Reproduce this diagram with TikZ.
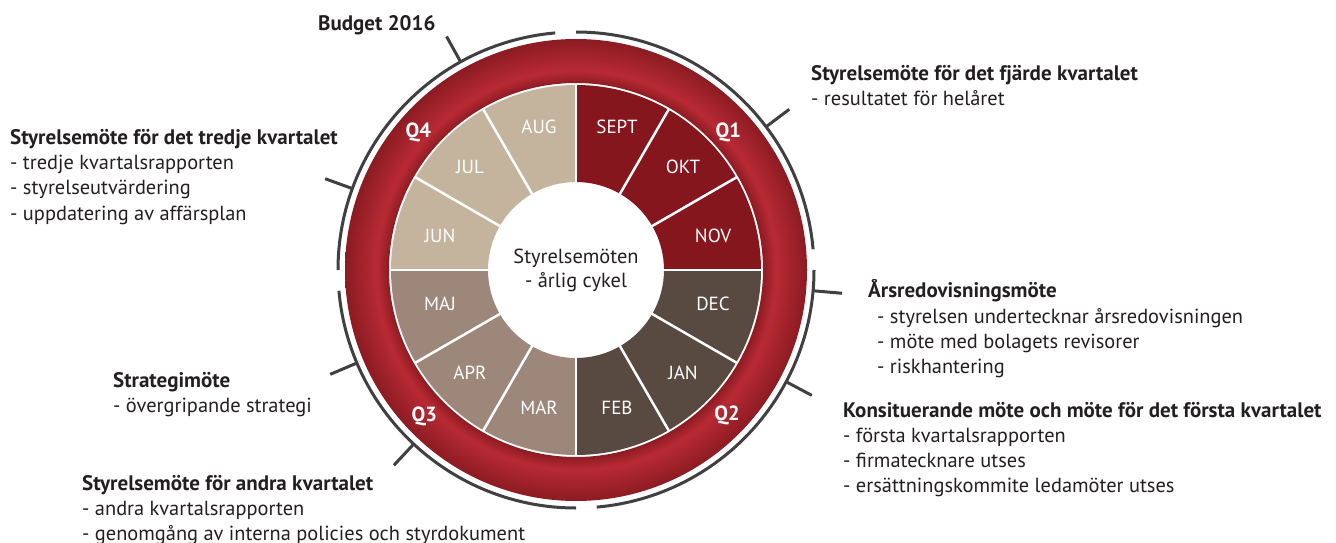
\documentclass[tikz,border=0pt]{standalone}
\usepackage{fontspec}
\setmainfont{PT Sans}
\definecolor{rd}{RGB}{140,27,34}
\definecolor{rl}{RGB}{184,42,52}
\definecolor{qa}{RGB}{134,22,29}
\definecolor{qb}{RGB}{89,74,65}
\definecolor{qc}{RGB}{156,135,122}
\definecolor{qd}{RGB}{196,180,157}
\definecolor{txt}{RGB}{35,31,32}
\definecolor{arcgray}{RGB}{64,64,64}
\pgfdeclareradialshading{ringshade}{\pgfpoint{0bp}{0bp}}{color(0bp)=(rd); color(20.2bp)=(rd); color(21.6bp)=(rl); color(25bp)=(rd); color(50bp)=(rd)}
\tikzset{
  month/.style={text=white, font=\fontsize{19}{19}\selectfont, inner sep=0pt},
  qlab/.style={text=white, font=\bfseries\fontsize{20.5}{20.5}\selectfont, inner sep=0pt},
  head/.style={anchor=base west, inner sep=0pt, text=txt, font=\bfseries\fontsize{21}{21}\selectfont},
  item/.style={anchor=base west, inner sep=0pt, text=txt, font=\fontsize{20.4}{20.4}\selectfont},
  qarc/.style={draw=arcgray, line width=3pt},
  tick/.style={draw=arcgray, line width=3pt},
  sep/.style={draw=white, line width=2.5pt}
}
\begin{document}
\begin{tikzpicture}[x=1pt,y=-1pt]
\useasboundingbox (0,0) rectangle (1336,543);
\begin{scope}[shift={(576,270)},y=1pt]
  % ring
  \shade[shading=ringshade, even odd rule] (0,0) circle[radius=231] (0,0) circle[radius=187];
  % sectors
  \foreach \a/\c in {60/qa,30/qa,0/qa,-30/qb,-60/qb,-90/qb,-120/qc,-150/qc,-180/qc,150/qd,120/qd,90/qd}{
    \pgfmathsetmacro{\b}{\a+30}
    \fill[\c] (\a:88) -- (\a:185) arc[start angle=\a, end angle=\b, radius=185] -- (\b:88) arc[start angle=\b, end angle=\a, radius=88] -- cycle;
  }
  \foreach \a in {0,30,...,330}{
    \draw[sep] (\a:87) -- (\a:186);
  }
  % quarter arcs
  \draw[qarc] (5:238) arc[start angle=5, end angle=90, radius=238];
  \draw[qarc] (95:238) arc[start angle=95, end angle=180, radius=238];
  \draw[qarc] (185:238) arc[start angle=185, end angle=270, radius=238];
  \draw[qarc] (275:238) arc[start angle=275, end angle=360, radius=238];
  % ticks
  \foreach \t in {37,119,160,203,227,332,355}{
    \draw[tick] (\t:239) -- (\t:267);
  }
  % quarter labels
  \node[qlab] (q1) at (42:205) {Q1};
  \node[qlab] (q2) at (-44:210) {Q2};
  \node[qlab] (q3) at (224:211) {Q3};
  \node[qlab] (q4) at (139:209) {Q4};
\end{scope}
% month labels (image coordinates)
\node[month] (mSEPT) at (617,127) {SEPT};
\node[month] (mOKT) at (683,167) {OKT};
\node[month] (mNOV) at (713,236) {NOV};
\node[month] (mDEC) at (713,304) {DEC};
\node[month] (mJAN) at (683,373) {JAN};
\node[month] (mFEB) at (617,408) {FEB};
\node[month] (mMAR) at (539,408) {MAR};
\node[month] (mAPR) at (470,373) {APR};
\node[month] (mMAJ) at (440,304) {MAJ};
\node[month] (mJUN) at (440,236) {JUN};
\node[month] (mJUL) at (470,167) {JUL};
\node[month] (mAUG) at (539,127) {AUG};
% center
\node[item, anchor=base] (c1) at (576,263) {Styrelsemöten};
\node[item, anchor=base] (c2) at (576,287) {- årlig cykel};
% annotations
\node[head] (budget) at (318,31) {Budget 2016};
\node[head] (t3) at (10,144) {Styrelsemöte för det tredje kvartalet};
\node[item] (t3a) at (10,169) {- tredje kvartalsrapporten};
\node[item] (t3b) at (10,194) {- styrelseutvärdering};
\node[item] (t3c) at (10,220) {- uppdatering av affärsplan};
\node[head] (t4) at (811,81) {Styrelsemöte för det fjärde kvartalet};
\node[item] (t4a) at (811,105) {- resultatet för helåret};
\node[head] (ar) at (868,297) {Årsredovisningsmöte};
\node[item] (ara) at (877,323) {- styrelsen undertecknar årsredovisningen};
\node[item] (arb) at (877,348) {- möte med bolagets revisorer};
\node[item] (arc) at (877,373) {- riskhantering};
\node[head] (k1) at (843,417) {Konsituerande möte och möte för det första kvartalet};
\node[item] (k1a) at (843,442) {- första kvartalsrapporten};
\node[item] (k1b) at (843,467) {- firmatecknare utses};
\node[item] (k1c) at (843,492) {- ersättningskommite ledamöter utses};
\node[head] (st) at (113,387) {Strategimöte};
\node[item] (sta) at (113,412) {- övergripande strategi};
\node[head] (t2) at (82,490) {Styrelsemöte för andra kvartalet};
\node[item] (t2a) at (82,515) {- andra kvartalsrapporten};
\node[item] (t2b) at (82,540) {- genomgång av interna policies och styrdokument};
\end{tikzpicture}
\end{document}
